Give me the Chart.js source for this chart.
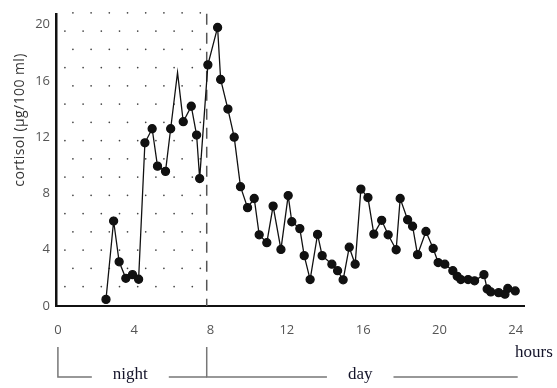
<!DOCTYPE html>
<html>
<head>
<meta charset="utf-8">
<script src="https://cdn.jsdelivr.net/npm/chart.js@4/dist/chart.umd.min.js"></script>
<style>
  html, body { margin: 0; padding: 0; background: #fff; }
  #wrap { width: 557px; height: 388px; }
</style>
</head>
<body>
<div id="wrap"><canvas id="cortisol-chart"></canvas></div>
<script>
// sampling times (hours) and plasma cortisol (µg/100 ml)
const hours = [2.52, 2.92, 3.21, 3.56, 3.91, 4.23, 4.56, 4.94, 5.22, 5.64,
    5.91, 6.27, 6.57, 6.99, 7.27, 7.43, 7.86, 8.37, 8.53, 8.91,
    9.24, 9.57, 9.94, 10.29, 10.55, 10.95, 11.28, 11.69, 12.07, 12.26,
    12.68, 12.91, 13.22, 13.61, 13.85, 14.36, 14.66, 14.95, 15.27, 15.58,
    15.88, 16.25, 16.56, 16.97, 17.31, 17.73, 17.94, 18.33, 18.59, 18.85,
    19.29, 19.67, 19.93, 20.28, 20.70, 20.93, 21.12, 21.50, 21.84, 22.33,
    22.50, 22.69, 23.10, 23.43, 23.58, 23.97];
const cortisol = [0.47, 6.04, 3.14, 1.97, 2.23, 1.90, 11.6, 12.6, 9.94, 9.57,
    12.6, 16.6, 13.1, 14.2, 12.15, 9.06, 17.14, 19.8, 16.1, 14.0,
    12.0, 8.48, 6.99, 7.64, 5.06, 4.5, 7.1, 4.02, 7.85, 5.99,
    5.5, 3.58, 1.88, 5.09, 3.58, 2.97, 2.51, 1.86, 4.18, 2.97,
    8.31, 7.71, 5.11, 6.09, 5.06, 4.0, 7.64, 6.13, 5.67, 3.65,
    5.3, 4.09, 3.09, 2.97, 2.51, 2.11, 1.88, 1.88, 1.79, 2.23,
    1.21, 1.0, 0.95, 0.84, 1.25, 1.07];
const unmarked = [11]; // the 6.3 h peak is drawn without a dot

const xTicks = [0, 4, 8, 12, 16, 20, 24];
const yTicks = [0, 4, 8, 12, 16, 20];
const nightStart = 0;
const nightEnd = 7.8;
const dayEnd = 24.1;
const periods = [
    { label: 'night', from: nightStart, to: nightEnd },
    { label: 'day', from: nightEnd, to: dayEnd }
];
const yTitle = 'cortisol (µg/100 ml)';
const xTitle = 'hours';

// dotted shading + dashed boundary for the night period
const nightPlugin = {
    id: 'night',
    beforeDatasetsDraw(chart) {
        const { ctx, chartArea, scales } = chart;
        const x0 = scales.x.getPixelForValue(nightStart);
        const x1 = scales.x.getPixelForValue(nightEnd);
        ctx.save();
        ctx.fillStyle = '#444';
        const step = 18.2;
        for (let i = 0; ; i++) {
            const y = chartArea.top - 1 + i * 18.25;
            if (y > chartArea.bottom - 3) break;
            for (let x = x0 + (i % 2 === 0 ? 15 : 7); x < x1 - 3; x += step) {
                ctx.beginPath();
                ctx.arc(x, y, 0.85, 0, Math.PI * 2);
                ctx.fill();
            }
        }
        ctx.strokeStyle = '#555';
        ctx.lineWidth = 1.5;
        ctx.setLineDash([11, 8]);
        ctx.beginPath();
        ctx.moveTo(x1, chartArea.top);
        ctx.lineTo(x1, chartArea.bottom);
        ctx.stroke();
        ctx.restore();
    }
};

// axis title, "hours" and the night/day bracket
const labelsPlugin = {
    id: 'labels',
    afterDraw(chart) {
        const { ctx, scales, chartArea } = chart;
        ctx.save();
        ctx.fillStyle = '#333';
        ctx.font = '14px "Open Sans", sans-serif';
        ctx.letterSpacing = '0.4px';
        ctx.textAlign = 'center';
        ctx.textBaseline = 'middle';
        ctx.translate(20, 120);
        ctx.rotate(-Math.PI / 2);
        ctx.fillText(yTitle, 0, 0);
        ctx.restore();

        ctx.save();
        ctx.font = '17px "Liberation Serif", serif';
        ctx.fillStyle = '#14142a';
        ctx.textBaseline = 'middle';
        ctx.textAlign = 'left';
        ctx.fillText(xTitle, 515, 353);

        const yLine = chartArea.bottom + 71;
        const yTop = chartArea.bottom + 41;
        ctx.strokeStyle = '#777';
        ctx.lineWidth = 1.5;
        ctx.textAlign = 'center';
        periods.forEach(p => {
            const a = scales.x.getPixelForValue(p.from);
            const b = scales.x.getPixelForValue(p.to);
            const mid = (a + b) / 2 - 2;
            const half = ctx.measureText(p.label).width / 2 + 21;
            ctx.beginPath();
            ctx.moveTo(a, yTop);
            ctx.lineTo(a, yLine);
            ctx.lineTo(mid - half, yLine);
            ctx.moveTo(mid + half, yLine);
            ctx.lineTo(b, yLine);
            ctx.stroke();
            ctx.fillText(p.label, mid, yLine - 2);
        });
        ctx.restore();
    }
};

const tickFont = { family: '"Open Sans", sans-serif', size: 13 };

new Chart(document.getElementById('cortisol-chart'), {
    type: 'scatter',
    data: {
        datasets: [{
            data: hours.map((h, i) => ({ x: h, y: cortisol[i] })),
            showLine: true,
            borderColor: '#111',
            borderWidth: 1.3,
            backgroundColor: '#111',
            pointBackgroundColor: '#111',
            pointBorderColor: '#111',
            pointRadius: ctx => unmarked.includes(ctx.dataIndex) ? 0 : 4,
            pointHoverRadius: 4
        }]
    },
    options: {
        responsive: true,
        maintainAspectRatio: false,
        devicePixelRatio: 1,
        animation: false,
        layout: { padding: { left: 0, top: 8, right: 33, bottom: 0 } },
        plugins: { legend: { display: false }, tooltip: { enabled: false } },
        scales: {
            x: {
                type: 'linear',
                min: -0.1,
                max: 24.43,
                afterBuildTicks: s => { s.ticks = xTicks.map(v => ({ value: v })); },
                afterFit: s => { s.height = 82; },
                grid: { display: false, drawTicks: false },
                border: { display: true, color: '#111', width: 2 },
                ticks: { color: '#555', font: tickFont, padding: 16, maxRotation: 0 }
            },
            y: {
                min: 0,
                max: 20.77,
                afterBuildTicks: s => { s.ticks = yTicks.map(v => ({ value: v })); },
                afterFit: s => { s.width = 56; },
                grid: { display: false, drawTicks: false },
                border: { display: true, color: '#111', width: 2.5 },
                ticks: { color: '#555', font: tickFont, padding: 6 }
            }
        }
    },
    plugins: [nightPlugin, labelsPlugin]
});
</script>
</body>
</html>
